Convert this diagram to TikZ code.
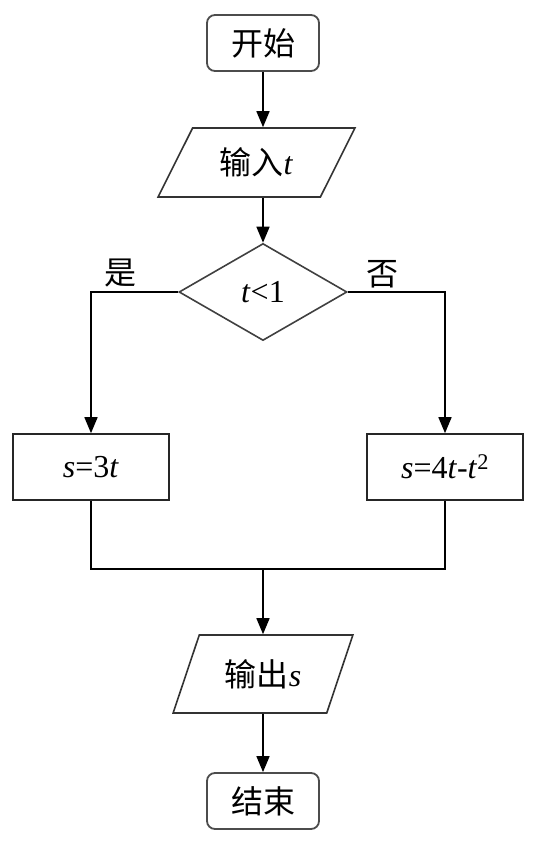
\documentclass[tikz,border=0pt]{standalone}
\usepackage{fontspec}
\setmainfont{Liberation Serif}
\newfontfamily\cjk{Noto Sans CJK SC}
\usetikzlibrary{shapes.geometric,arrows.meta}

\begin{document}
\begin{tikzpicture}[x=1pt,y=-1pt,font=\fontsize{32}{38}\selectfont]
  \tikzstyle{startstop}=[draw=black!70,line width=1.8pt,rounded corners=8pt,minimum width=112pt,minimum height=56pt,inner sep=0pt]
  \tikzstyle{io}=[draw=black!80,line width=1.6pt,trapezium,trapezium stretches=true,inner sep=0pt]
  \tikzstyle{process}=[draw=black!85,line width=1.6pt,minimum width=156pt,minimum height=66pt,inner sep=0pt]
  \tikzstyle{decision}=[draw=black!75,line width=1.6pt,diamond,aspect=1.73,minimum width=168pt,minimum height=97pt,inner sep=0pt]
  \tikzstyle{line}=[draw,line width=1.6pt,-{Triangle[length=16pt,width=13pt]}]
  \useasboundingbox (0,0) rectangle (538,842);
  \node[startstop] (start) at (263,43) {\cjk 开始};
  \node[io,trapezium left angle=56,trapezium right angle=124,minimum width=197pt,minimum height=69pt] (in) at (256.5,162.5) {{\cjk 输入}\textit{t}};
  \node[decision] (cond) at (263,292) {\textit{t}<1};
  \node[process] (yes) at (91,467) {\textit{s}=3\textit{t}};
  \node[process] (no) at (445,467) {\textit{s}=4\textit{t}-\textit{t}\textsuperscript{2}};
  \node[io,trapezium left angle=62,trapezium right angle=118,minimum width=180pt,minimum height=78pt] (out) at (263,674) {{\cjk 输出}\textit{s}};
  \node[startstop] (stop) at (263,801) {\cjk 结束};
  \node (lyes) at (120,273) {\cjk 是};
  \node (lno) at (382,274) {\cjk 否};
  \coordinate (merge) at (263,569);
  \draw[line] (start.south) -- (start.south |- in.north);
  \draw[line] (start |- in.south) -- (cond.north);
  \draw[line] (cond.west) -| (yes.north);
  \draw[line] (cond.east) -| (no.north);
  \draw[line width=1.6pt] (yes.south) |- (merge) -| (no.south);
  \draw[line] (merge) -- (out.north);
  \draw[line] (out.south) -- (stop.north);
\end{tikzpicture}
\end{document}
